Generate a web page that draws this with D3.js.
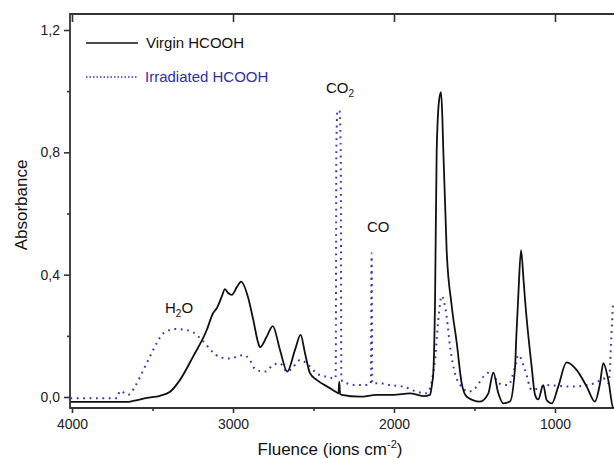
<!DOCTYPE html>
<html><head><meta charset="utf-8">
<script src="https://cdn.jsdelivr.net/npm/d3@7"></script>
<style>body{margin:0;background:#fff}svg{display:block;font-family:Arial,"Liberation Sans",sans-serif}</style>
</head><body><svg id="c" width="614" height="458"></svg>
<script>
// Wavenumber (cm-1) and absorbance
const virginW = [4010,3800,3658,3621,3534,3453,3391,3329,3248,3163,3124,3101,3070,3050,3030,3008,2975,2950,2905,2874,2845,2832,2791,2753,2708,2663,2615,2580,2553,2522,2480,2398,2352,2345,2340,2335,2325,2211,2107,2004,1901,1818,1776,1766,1756,1745,1735,1720,1708,1700,1694,1673,1642,1610,1580,1548,1466,1414,1383,1352,1321,1280,1248,1240,1228,1211,1195,1186,1145,1124,1104,1073,1052,1020,980,928,865,803,752,720,700,669,638,600];
const virginA = [-0.016,-0.016,-0.016,-0.013,-0.003,0.004,0.017,0.056,0.132,0.219,0.274,0.290,0.328,0.353,0.340,0.334,0.360,0.377,0.323,0.252,0.180,0.163,0.197,0.232,0.154,0.083,0.154,0.203,0.144,0.078,0.056,0.029,0.014,0.012,0.050,0.010,0.007,0.001,0.007,0.007,0.012,0.003,0.007,0.034,0.078,0.317,0.80,0.97,0.997,0.92,0.81,0.48,0.30,0.176,0.046,0.001,-0.015,0.012,0.080,0.012,-0.021,-0.015,0.099,0.20,0.33,0.480,0.38,0.317,0.099,0.007,-0.008,0.039,-0.010,-0.021,0.034,0.113,0.088,0.034,-0.015,0.046,0.111,0.056,-0.036,-0.04];
const irradW = [4010,3720,3702,3652,3609,3557,3516,3474,3433,3360,3288,3247,3184,3122,3081,3019,2936,2894,2870,2853,2801,2750,2708,2665,2625,2584,2532,2480,2418,2377,2366,2362,2358,2352,2345,2338,2331,2327,2320,2294,2232,2180,2144,2139,2135,2087,2025,1942,1859,1797,1745,1725,1704,1673,1652,1621,1570,1539,1497,1445,1393,1352,1290,1248,1228,1186,1145,1104,1052,969,886,803,741,700,669,660,650,640];
const irradA = [-0.004,-0.004,0.020,0.007,0.034,0.088,0.132,0.176,0.208,0.222,0.219,0.211,0.181,0.145,0.130,0.126,0.137,0.120,0.095,0.088,0.083,0.105,0.110,0.083,0.099,0.121,0.105,0.077,0.066,0.061,0.06,0.07,0.80,0.935,0.938,0.935,0.80,0.07,0.05,0.045,0.039,0.039,0.045,0.47,0.045,0.045,0.039,0.034,0.017,0.012,0.121,0.252,0.330,0.263,0.165,0.077,0.028,0.017,0.028,0.066,0.083,0.045,0.039,0.099,0.137,0.088,0.023,0.028,0.039,0.036,0.034,0.039,0.048,0.061,0.045,0.08,0.20,0.30];
const yMajor = [0,0.4,0.8,1.2];
const yMinor = [0.2,0.6,1.0];
const xMajor = [4000,3000,2000,1000];
const xMinor = [3500,2500,1500];
const seriesNames = ["Virgin HCOOH","Irradiated HCOOH"];

const svg = d3.select("#c");
const L=70, T=14, B=408, R=700;
const x = d3.scaleLinear().domain([4000,1000]).range([72,555]);
const y = d3.scaleLinear().domain([0,1.2]).range([397,30]);
const axisCol="#333", blue="#3838b2";
const fmt = v => d3.format(".1f")(v).replace(".",",");

svg.append("clipPath").attr("id","cp").append("rect").attr("x",L).attr("y",T).attr("width",R-L).attr("height",B-T);

// axes
const gy = svg.append("g").attr("transform",`translate(${L},0)`)
  .call(d3.axisLeft(y).tickValues(yMajor).tickSize(6).tickPadding(4).tickFormat(fmt));
gy.append("g").call(d3.axisLeft(y).tickValues(yMinor).tickSize(3).tickFormat(""));
const gx = svg.append("g").attr("transform",`translate(0,${B})`)
  .call(d3.axisBottom(x).tickValues(xMajor).tickSize(5).tickPadding(6).tickFormat(d3.format("d")));
gx.append("g").call(d3.axisBottom(x).tickValues(xMinor).tickSize(3).tickFormat(""));
const gt = svg.append("g").attr("transform",`translate(0,${T})`)
  .call(d3.axisTop(x).tickValues(xMajor).tickSize(-8).tickFormat(""));
svg.selectAll(".domain").remove();
svg.selectAll(".tick line").attr("stroke",axisCol).attr("stroke-width",1.6);
svg.selectAll(".tick text").attr("fill","#222").style("font-size","14px").style("font-family","Arial,'Liberation Sans',sans-serif");

// frame
svg.append("path").attr("d",`M${R},${T}H${L}V${B}H${R}`).attr("fill","none").attr("stroke",axisCol).attr("stroke-width",1.8);

const line = d3.line().x(d=>x(d[0])).y(d=>y(d[1])).curve(d3.curveMonotoneX);
const plot = svg.append("g").attr("clip-path","url(#cp)");
plot.append("path").datum(irradW.map((w,i)=>[w,irradA[i]])).attr("d",line)
  .attr("fill","none").attr("stroke",blue).attr("stroke-width",2).attr("stroke-dasharray","1.8,4.6");
plot.append("path").datum(virginW.map((w,i)=>[w,virginA[i]])).attr("d",line)
  .attr("fill","none").attr("stroke","#111").attr("stroke-width",1.8);

// legend
svg.append("line").attr("x1",86).attr("x2",138).attr("y1",43).attr("y2",43).attr("stroke","#111").attr("stroke-width",1.5);
svg.append("text").attr("x",146).attr("y",48).text(seriesNames[0]).attr("fill","#111").style("font-size","15px");
svg.append("line").attr("x1",86).attr("x2",138).attr("y1",77).attr("y2",77).attr("stroke",blue).attr("stroke-width",1.5).attr("stroke-dasharray","1.5,2");
svg.append("text").attr("x",145).attr("y",82).text(seriesNames[1]).attr("fill","#3030a0").style("font-size","15px");

// annotations
function chem(xp,yp,parts){
  const t=svg.append("text").attr("x",xp).attr("y",yp).attr("fill","#111").style("font-size","15px");
  parts.forEach(p=>{
    if(p.sub) t.append("tspan").attr("dy",4).style("font-size","10px").text(p.t);
    else t.append("tspan").attr("dy",p.back?-4:0).text(p.t);
  });
}
chem(165,313,[{t:"H"},{t:"2",sub:true},{t:"O",back:true}]);
chem(326,93,[{t:"CO"},{t:"2",sub:true}]);
chem(367,232,[{t:"CO"}]);

// axis titles
svg.append("text").attr("transform","translate(27,205) rotate(-90)").attr("text-anchor","middle")
  .attr("fill","#111").style("font-size","17px").text("Absorbance");
const xt = svg.append("text").attr("x",330).attr("y",455).attr("text-anchor","middle").attr("fill","#111").style("font-size","17px");
xt.append("tspan").text("Fluence (ions cm");
xt.append("tspan").attr("dy",-7).style("font-size","11px").text("-2");
xt.append("tspan").attr("dy",7).text(")");
</script></body></html>
